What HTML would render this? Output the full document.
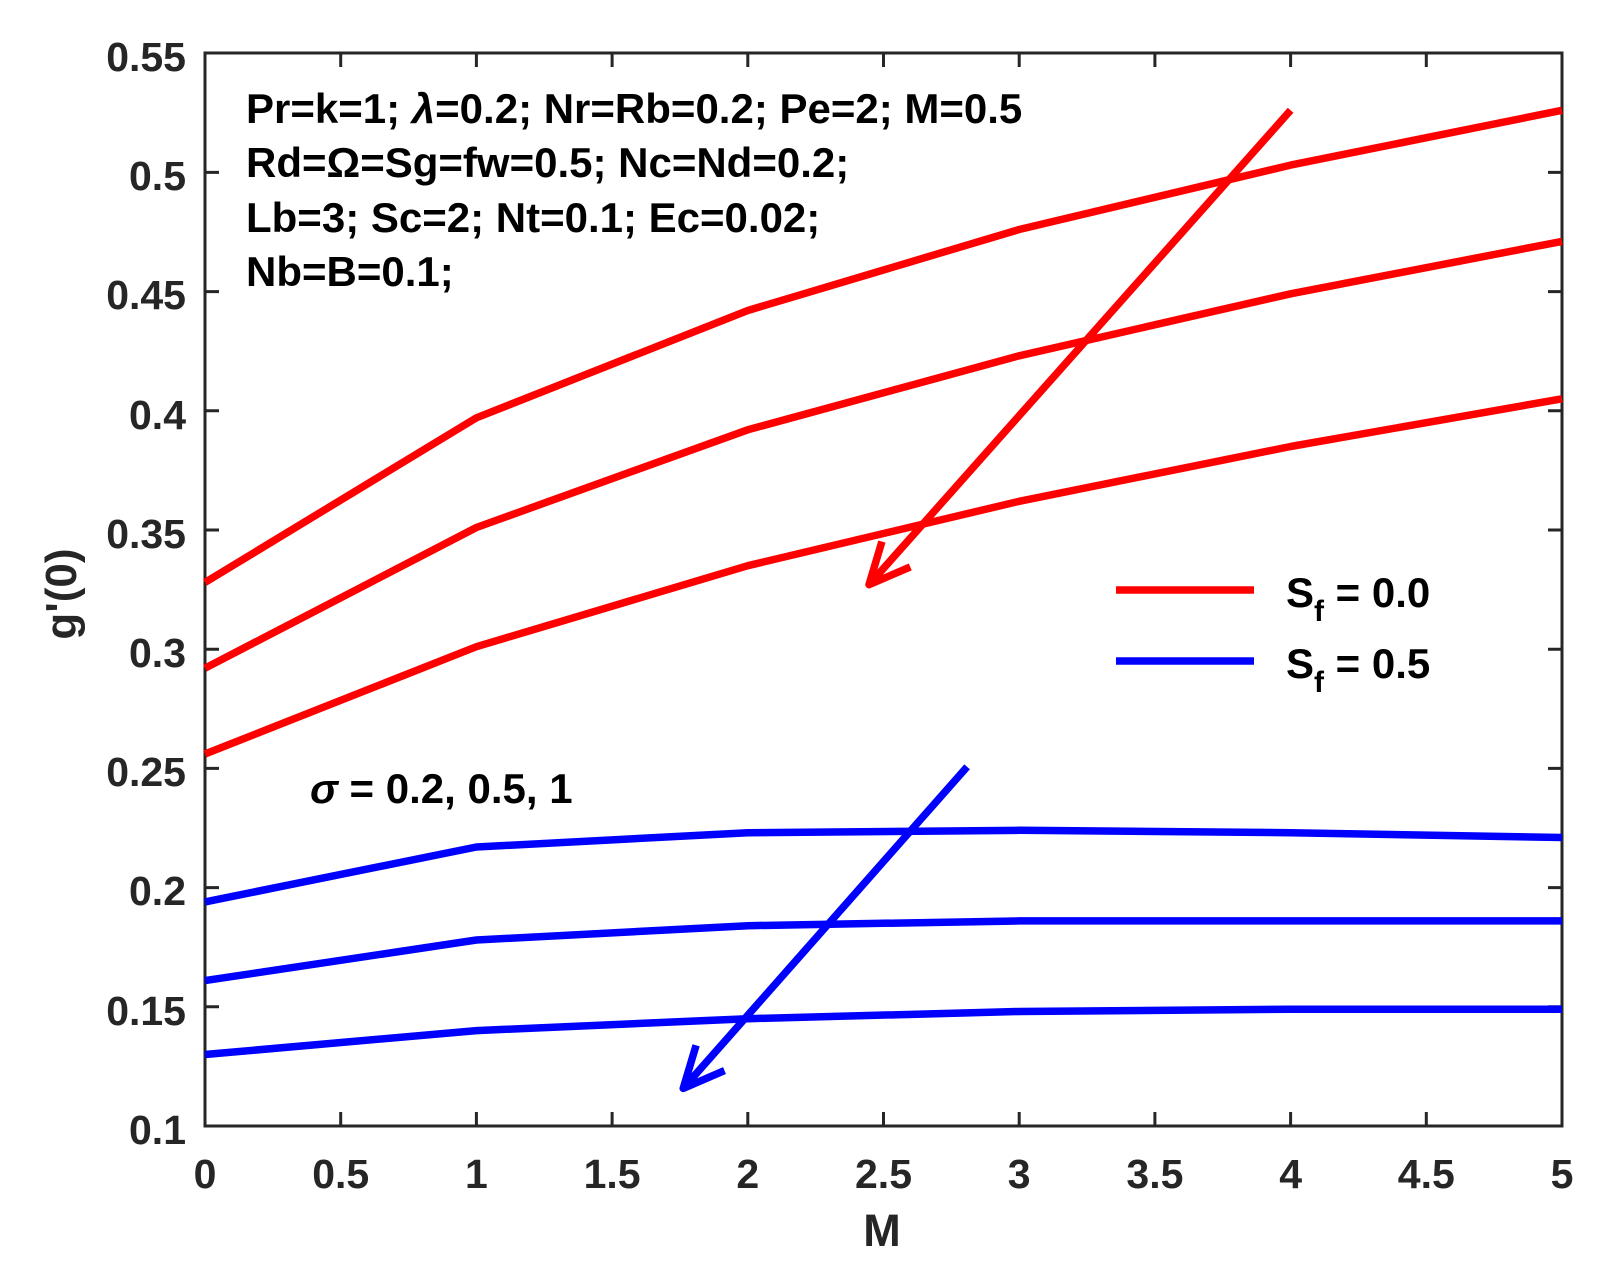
<!DOCTYPE html>
<html><head><meta charset="utf-8"><style>body{margin:0;background:#fff}svg{display:block}</style></head><body>
<svg width="1617" height="1284" viewBox="0 0 1617 1284" xmlns="http://www.w3.org/2000/svg" font-family="Liberation Sans, sans-serif" font-weight="bold">
<rect width="1617" height="1284" fill="#fff"/>
<g stroke="#262626" stroke-width="3" fill="none">
<rect x="205" y="53" width="1357" height="1073"/>
<path d="M476.4 1126v-14M747.8 1126v-14M1019.2 1126v-14M1290.6 1126v-14M340.7 1126v-14M612.1 1126v-14M883.5 1126v-14M1154.9 1126v-14M1426.3 1126v-14
M476.4 53v14M747.8 53v14M1019.2 53v14M1290.6 53v14M340.7 53v14M612.1 53v14M883.5 53v14M1154.9 53v14M1426.3 53v14
M205 1006.8h14M205 887.6h14M205 768.4h14M205 649.2h14M205 530h14M205 410.8h14M205 291.6h14M205 172.4h14
M1562 1006.8h-14M1562 887.6h-14M1562 768.4h-14M1562 649.2h-14M1562 530h-14M1562 410.8h-14M1562 291.6h-14M1562 172.4h-14"/>
</g>
<g stroke="#ff0000" stroke-width="7.5" fill="none" stroke-linejoin="round">
<polyline points="205,582.4 476.4,417.8 747.8,310.5 1019.2,229.5 1290.6,165.1 1562,110.3"/>
<polyline points="205,668.2 476.4,527.5 747.8,429.8 1019.2,355.8 1290.6,293.8 1562,241.4"/>
<polyline points="205,754 476.4,646.7 747.8,565.7 1019.2,501.3 1290.6,446.5 1562,398.8"/>
<path d="M1290.6 110.3L869 584.7M910.3 566.9L869 584.7L881.9 541.6"/>
<path d="M1116 590H1254"/>
</g>
<g stroke="#0000ff" stroke-width="7.5" fill="none" stroke-linejoin="round">
<polyline points="205,901.9 476.4,847 747.8,832.7 1019.2,830.3 1290.6,832.7 1562,837.5"/>
<polyline points="205,980.6 476.4,940 747.8,925.7 1019.2,920.9 1290.6,920.9 1562,920.9"/>
<polyline points="205,1054.5 476.4,1030.6 747.8,1018.7 1019.2,1011.5 1290.6,1009.2 1562,1009.2"/>
<path d="M967.1 766.8L683.2 1088.4M724.5 1070.6L683.2 1088.4L696.1 1045.3"/>
<path d="M1116 661H1254"/>
</g>
<g fill="#262626" font-size="41" text-anchor="end">
<text x="186" y="71">0.55</text><text x="186" y="190">0.5</text><text x="186" y="309">0.45</text>
<text x="186" y="429">0.4</text><text x="186" y="548">0.35</text><text x="186" y="667">0.3</text>
<text x="186" y="786">0.25</text><text x="186" y="905">0.2</text><text x="186" y="1025">0.15</text><text x="186" y="1144">0.1</text>
</g>
<g fill="#262626" font-size="41" text-anchor="middle">
<text x="205" y="1188">0</text><text x="340.7" y="1188">0.5</text><text x="476.4" y="1188">1</text><text x="612.1" y="1188">1.5</text>
<text x="747.8" y="1188">2</text><text x="883.5" y="1188">2.5</text><text x="1019.2" y="1188">3</text><text x="1154.9" y="1188">3.5</text>
<text x="1290.6" y="1188">4</text><text x="1426.3" y="1188">4.5</text><text x="1562" y="1188">5</text>
<text x="882" y="1246" font-size="45">M</text>
<text transform="translate(76,594) rotate(-90)" font-size="44">g'(0)</text>
</g>
<g fill="#000" font-size="42">
<text x="246" y="123">Pr=k=1; <tspan font-style="italic">λ</tspan>=0.2; Nr=Rb=0.2; Pe=2; M=0.5</text>
<text x="246" y="177">Rd=Ω=Sg=fw=0.5; Nc=Nd=0.2;</text>
<text x="246" y="232">Lb=3; Sc=2; Nt=0.1; Ec=0.02;</text>
<text x="246" y="286">Nb=B=0.1;</text>
<text x="310" y="803"><tspan font-style="italic">σ</tspan> = 0.2, 0.5, 1</text>
<text x="1286" y="607" font-size="42">S<tspan font-size="30" dy="14">f</tspan><tspan dy="-14"> = 0.0</tspan></text>
<text x="1286" y="678" font-size="42">S<tspan font-size="30" dy="14">f</tspan><tspan dy="-14"> = 0.5</tspan></text>
</g>
</svg>
</body></html>
